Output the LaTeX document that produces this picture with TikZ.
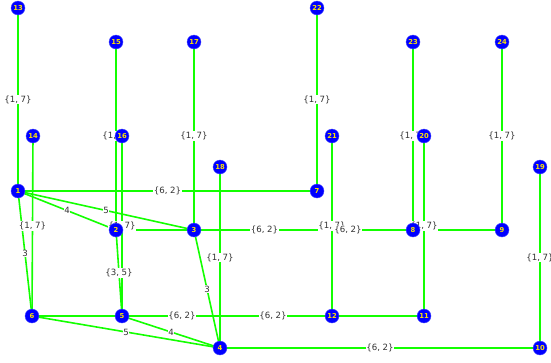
\documentclass[tikz,border=0pt]{standalone}
\usepackage{fontspec}
\setmainfont{DejaVu Sans}
\usetikzlibrary{calc}
\pgfdeclarelayer{edgelayer}
\pgfdeclarelayer{labellayer}
\pgfsetlayers{edgelayer,labellayer,main}
\begin{document}
\begin{tikzpicture}[x=1pt,y=-1pt,
  vtx/.style={circle,fill=blue,draw=blue!70!white,line width=0.4pt,inner sep=0pt,minimum size=14pt,text=yellow!85!orange,font=\fontsize{6.8}{7}\selectfont\bfseries},
  edge/.style={draw=green!90!lime,line width=1.6pt},
  lbl/.style={fill=white,inner sep=0.6pt,text=black!80,font=\fontsize{8.6}{9}\selectfont}]
\useasboundingbox (0,0) rectangle (551,362);
\foreach \n/\x/\y in {13/18/8,15/116/42,17/194/42,22/317/8,23/413/42,24/502/42,14/33/136,16/122/136,20/424/136,21/332/136,18/220/167,19/540/167,1/18/191,7/317/191,2/116/230,3/194/230,8/413/230,9/502/230,6/32/316,5/122/316,12/332/316,11/424/316,4/220/348,10/540/348}
  \node[vtx] (v\n) at (\x,\y) {\n};
\begin{pgfonlayer}{edgelayer}
\foreach \a/\b in {13/1,15/2,16/5,17/3,22/7,18/4,23/8,24/9,21/12,20/11,19/10,14/6,1/7,1/6,1/2,1/3,2/5,3/4,2/8,3/9,6/12,5/11,6/4,5/4,4/10}
  \draw[edge] (v\a.center) -- (v\b.center);
\end{pgfonlayer}
\begin{pgfonlayer}{labellayer}
\foreach \a/\b/\t in {13/1/{\{1, 7\}},15/2/{\{1, 7\}},16/5/{\{1, 7\}},17/3/{\{1, 7\}},22/7/{\{1, 7\}},18/4/{\{1, 7\}},23/8/{\{1, 7\}},24/9/{\{1, 7\}},21/12/{\{1, 7\}},20/11/{\{1, 7\}},19/10/{\{1, 7\}},14/6/{\{1, 7\}},1/7/{\{6, 2\}},1/6/3,1/2/4,1/3/5,2/5/{\{3, 5\}},3/4/3,2/8/{\{6, 2\}},3/9/{\{6, 2\}},6/12/{\{6, 2\}},5/11/{\{6, 2\}},6/4/5,5/4/4,4/10/{\{6, 2\}}}
  \node[lbl] (l\a-\b) at ($(v\a.center)!0.5!(v\b.center)$) {\t};
\end{pgfonlayer}
\end{tikzpicture}
\end{document}
